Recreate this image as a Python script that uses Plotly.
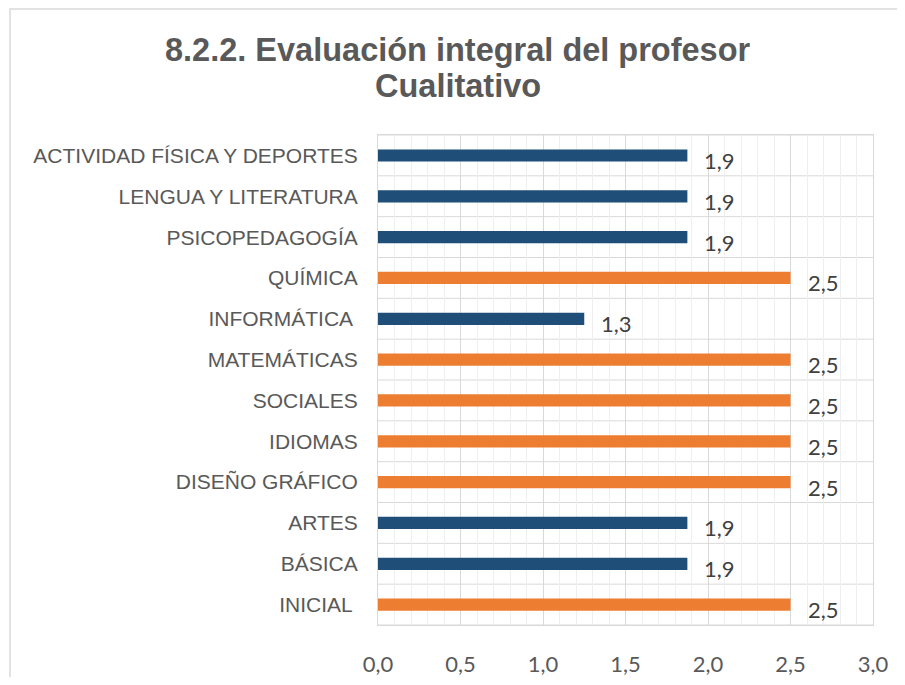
import plotly.graph_objects as go

categories = ["ACTIVIDAD FÍSICA Y DEPORTES", "LENGUA Y LITERATURA", "PSICOPEDAGOGÍA",
              "QUÍMICA", "INFORMÁTICA ", "MATEMÁTICAS", "SOCIALES", "IDIOMAS",
              "DISEÑO GRÁFICO", "ARTES", "BÁSICA", "INICIAL "]
values = [1.875, 1.875, 1.875, 2.5, 1.25, 2.5, 2.5, 2.5, 2.5, 1.875, 1.875, 2.5]
labels = ["1,9", "1,9", "1,9", "2,5", "1,3", "2,5", "2,5", "2,5", "2,5", "1,9", "1,9", "2,5"]
title_lines = ["8.2.2. Evaluación integral del profesor", "Cualitativo"]

BLUE = "#1F4E79"
ORANGE = "#ED7D31"
colors = [ORANGE if v >= 2.5 else BLUE for v in values]

# page has an 8px body margin; keep the figure inside the 905x685 window
OFF = 8
W, H = 905 - 2 * OFF, 685 - 2 * OFF
ML, MR, MT, MB = 378 - OFF, 905 - OFF - 873, 135 - OFF, 685 - OFF - 625

fig = go.Figure(go.Bar(
    y=categories, x=values, orientation="h",
    marker=dict(color=colors, line=dict(width=0)),
    width=0.3, hoverinfo="skip",
))

for c, v, t in zip(categories, values, labels):
    fig.add_annotation(x=v, y=c, text=t, showarrow=False, xanchor="left",
                       xshift=15, yshift=-5,
                       font=dict(family="Lato, Open Sans, sans-serif", size=22, color="#404040"))

pw = W - ML - MR
ph = H - MT - MB
fig.add_shape(type="rect", xref="paper", yref="paper",
              x0=(2 - ML) / pw, x1=(W + 60 - ML) / pw,
              y0=-(MB + 60) / ph, y1=1 + (MT - 1) / ph,
              line=dict(color="#D9D9D9", width=1.5), layer="below")

for txt, ypx in zip(title_lines, [50, 86]):
    fig.add_annotation(text="<b>%s</b>" % txt, xref="paper", yref="paper",
                       x=(458 - OFF - ML) / pw, y=1 + (MT + OFF - ypx) / ph,
                       xanchor="center", yanchor="middle", showarrow=False,
                       font=dict(family="Liberation Sans, Arial, sans-serif", size=32.5, color="#595959"))

fig.update_layout(
    width=W, height=H,
    margin=dict(l=ML, r=MR, t=MT, b=MB, autoexpand=False),
    paper_bgcolor="white", plot_bgcolor="white",
    separators=",.",
    showlegend=False,
    bargap=0.7,
)
fig.update_xaxes(range=[0, 3.0], dtick=0.5, tickformat=".1f", automargin=False,
                 showgrid=True, gridcolor="#D9D9D9", gridwidth=1,
                 minor=dict(dtick=0.1, showgrid=True, gridcolor="#EFEFEF", gridwidth=1),
                 showline=True, linecolor="#D9D9D9", mirror=True, zeroline=False,
                 ticks="", ticklabelstandoff=20,
                 tickfont=dict(family="Lato, Open Sans, sans-serif", size=22, color="#595959"))
fig.update_yaxes(autorange="reversed", showgrid=False, automargin=False,
                 showline=True, linecolor="#D9D9D9", mirror=True,
                 ticks="", ticklabelstandoff=15,
                 tickfont=dict(family="Liberation Sans, Arial, sans-serif", size=21, color="#595959"))

for i in range(len(categories) + 1):
    fig.add_shape(type="line", xref="paper", yref="paper", x0=0, x1=1,
                  y0=i / len(categories), y1=i / len(categories),
                  line=dict(color="#D9D9D9", width=1), layer="below")

fig.write_html("out.html")
